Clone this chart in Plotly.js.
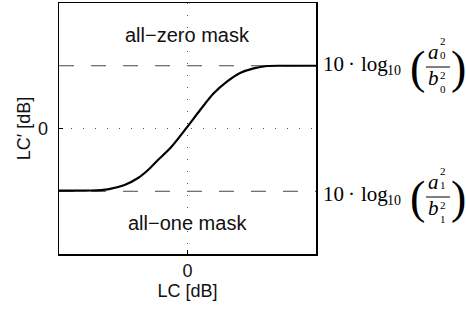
<!DOCTYPE html>
<html>
<head>
<meta charset="utf-8">
<script src="https://cdn.plot.ly/plotly-3.0.1.min.js"></script>
<style>html,body{margin:0;padding:0;background:#fff}#chart{width:466px;height:313px}</style>
</head>
<body>
<div id="chart"></div>
<script>
// Transfer curve LC' vs LC (normalized units)
const lcX = [-1, -0.75, -0.62, -0.49, -0.385, -0.307, -0.23, -0.128, 0, 0.097, 0.204, 0.307, 0.409, 0.515, 0.619, 0.774, 1];
const lcY = [-0.99, -0.988, -0.969, -0.9, -0.789, -0.661, -0.502, -0.30, 0.03, 0.29, 0.56, 0.746, 0.884, 0.959, 0.996, 1.0, 1.0];
// Asymptote levels (all-zero mask and all-one mask)
const levelNames = ['all−zero mask', 'all−one mask'];
const levels = [1, -1];
const levelIdx = ['0', '1'];
const maskLabelY = [1.49, -1.51];
const xTicks = [0], yTicks = [0];
const xTickText = ['0'], yTickText = ['0'];

const W = 466, H = 313, L = 59, R = 316, T = 3, B = 254;
const xp = px => (px - L) / (R - L);
const yp = py => (B - py) / (B - T);

const traces = [];
levels.forEach((lv, i) => {
  traces.push({x: [-1, 1], y: [lv, lv], mode: 'lines', line: {color: '#444', width: 1, dash: '15px,17px'}, hoverinfo: 'skip', showlegend: false});
});
traces.push({x: lcX, y: lcY, mode: 'lines', line: {color: '#000', width: 2.2, shape: 'spline', smoothing: 0.8}, showlegend: false});

const serif = 'Liberation Serif';
const ann = [];
const shapes = [];
levelNames.forEach((name, i) => {
  ann.push({x: 0, y: maskLabelY[i], xref: 'x', yref: 'y', text: name, showarrow: false,
    font: {family: 'Liberation Sans', size: 20, color: '#111'}, xanchor: 'center', yanchor: 'middle'});
});
levels.forEach((lv, i) => {
  const off = i === 0 ? 0 : 130;
  const k = levelIdx[i];
  const f = (text, px, py, size, anchor) => ann.push({x: xp(px), y: yp(py + off), xref: 'paper', yref: 'paper', text: text, showarrow: false,
    font: {family: serif, size: size, color: '#000'}, xanchor: anchor || 'center', yanchor: 'middle', borderpad: 0});
  f('10', 322, 64, 21, 'left');
  f('·', 351, 64, 21);
  f('log', 360, 64, 21, 'left');
  f('10', 386, 70, 14, 'left');
  f('(', 417, 67, 46);
  f(')', 458, 67, 46);
  f('<i>a</i>', 433, 52, 21);
  f('2<br>' + k, 443, 48, 11);
  f('<i>b</i>', 433, 78, 21);
  f('2<br>' + k, 443, 82, 11);
  shapes.push({type: 'line', xref: 'paper', yref: 'paper', x0: xp(426), x1: xp(450), y0: yp(67 + off), y1: yp(67 + off), line: {color: '#000', width: 1}});
});

const axFont = {family: 'Liberation Sans', size: 18, color: '#111'};
const layout = {
  width: W, height: H,
  margin: {l: L, r: W - R, t: T, b: H - B},
  paper_bgcolor: '#fff', plot_bgcolor: '#fff',
  showlegend: false,
  xaxis: {range: [-1, 1], tickvals: xTicks, ticktext: xTickText, ticks: 'inside', ticklen: 4, tickcolor: '#000',
    showline: true, mirror: true, linecolor: '#000', linewidth: 1.5, zeroline: false,
    showgrid: true, gridcolor: '#555', gridwidth: 1, griddash: '1px,11px',
    tickfont: axFont, title: {text: 'LC [dB]', font: axFont, standoff: 0}},
  yaxis: {range: [-2, 2], tickvals: yTicks, ticktext: yTickText, ticks: 'inside', ticklen: 4, tickcolor: '#000',
    showline: true, mirror: true, linecolor: '#000', linewidth: 1.5, zeroline: false,
    showgrid: true, gridcolor: '#555', gridwidth: 1, griddash: '1px,11px', ticklabelstandoff: 6,
    tickfont: axFont, title: {text: 'LC′ [dB]', font: axFont, standoff: 2}},
  annotations: ann,
  shapes: shapes
};
Plotly.newPlot('chart', traces, layout, {displayModeBar: false, staticPlot: true});
</script>
</body>
</html>
